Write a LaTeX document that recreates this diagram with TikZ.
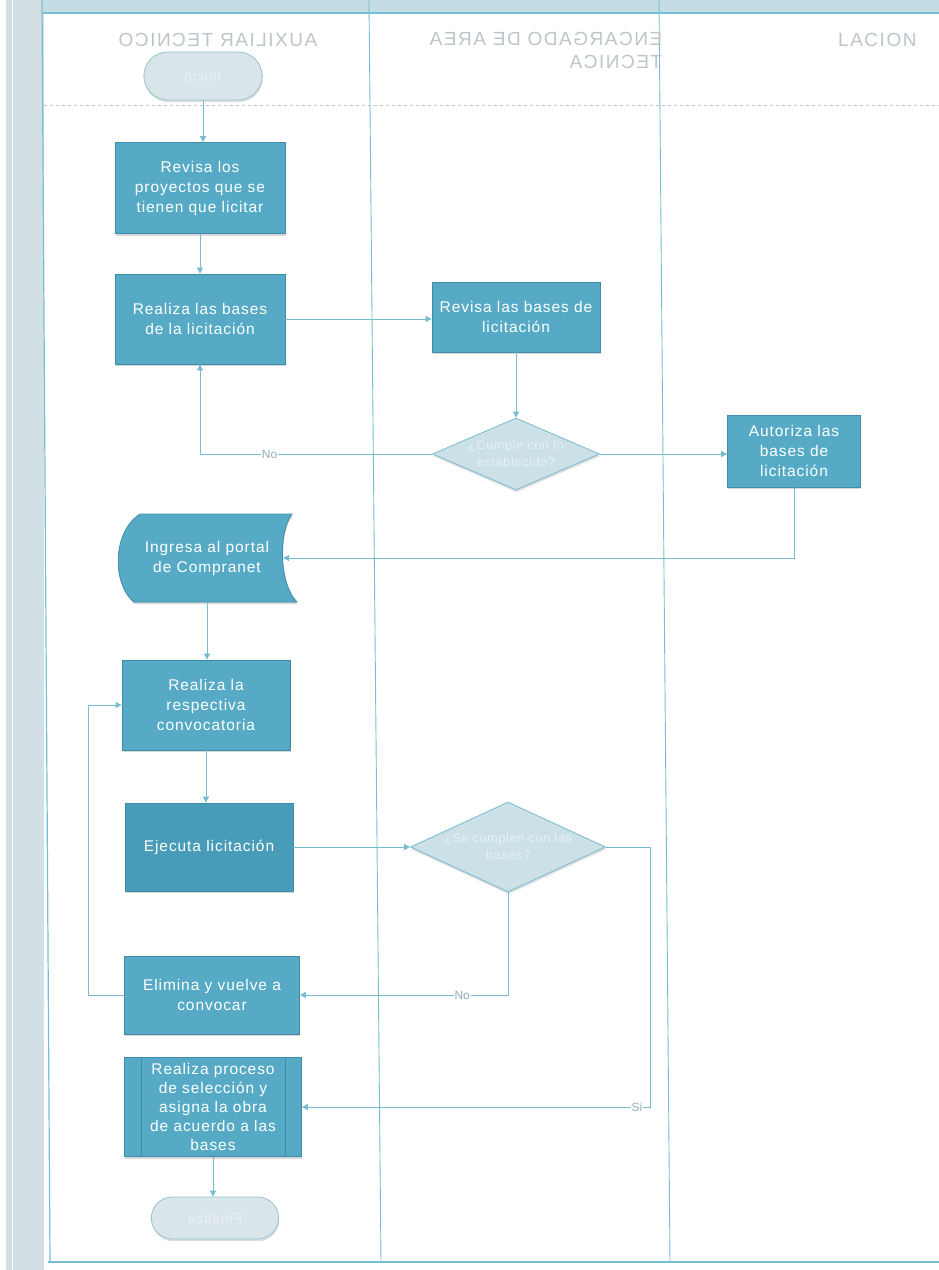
\documentclass[tikz,border=0pt]{standalone}
\usepackage{fontspec}
\setmainfont{Liberation Sans}
\newfontfamily\boxfont[LetterSpace=6]{Liberation Sans}
\newfontfamily\headfont[LetterSpace=8]{Liberation Sans}
\usetikzlibrary{arrows.meta,shapes.geometric,shapes.misc,shadows}
\definecolor{boxfill}{RGB}{86,170,197}
\definecolor{boxdark}{RGB}{72,155,185}
\definecolor{boxline}{RGB}{62,140,168}
\definecolor{flow}{RGB}{118,188,208}
\definecolor{decfill}{RGB}{203,224,231}
\definecolor{termfill}{RGB}{216,229,233}
\definecolor{frame}{RGB}{120,190,210}
\definecolor{faint}{RGB}{188,198,202}
\definecolor{strip}{RGB}{210,224,229}
\definecolor{topband}{RGB}{196,220,228}

\begin{document}
\begin{tikzpicture}[x=1pt,y=-1pt,
  boxtext/.style={rectangle,text=white,align=center,inner sep=2pt,
    font=\boxfont\fontsize{15.5}{20}\selectfont},
  proc/.style={boxtext,draw=boxline,line width=0.8pt,fill=boxfill,
    drop shadow={opacity=0.3,shadow xshift=0.6pt,shadow yshift=-2.2pt}},
  decision/.style={diamond,draw=flow,line width=0.8pt,fill=decfill,inner sep=0pt,
    drop shadow={opacity=0.25,shadow xshift=0.6pt,shadow yshift=-2.2pt}},
  dtext/.style={text={rgb,255:red,234;green,241;blue,244},align=center,font=\boxfont\fontsize{12.5}{17}\selectfont},
  term/.style={rounded rectangle,draw={rgb,255:red,150;green,196;blue,208},line width=0.8pt,fill=termfill,
    text={rgb,255:red,236;green,242;blue,244},font=\boxfont\fontsize{14}{17}\selectfont,
    drop shadow={opacity=0.25,shadow xshift=0.6pt,shadow yshift=-2.2pt}},
  flowline/.style={draw=flow,line width=0.9pt,-{Triangle[length=6pt,width=6pt]}},
  tag/.style={fill=white,inner sep=1pt,text={rgb,255:red,150;green,170;blue,180},font=\fontsize{12}{14}\selectfont},
  header/.style={text=faint,font=\headfont\fontsize{19}{23}\selectfont,inner sep=0pt}]
\path[use as bounding box] (0,0) rectangle (939,1270);
\fill[white] (0,0) rectangle (939,1270);

% swimlane frame
\fill[strip] (6,0) rectangle (44,1270);
\draw[white,line width=1pt] (12,0) -- (12,1270);
\fill[topband] (43,0) rectangle (939,12);
\draw[frame,line width=2pt] (43,13) -- (939,13);
\draw[faint,dashed,line width=0.6pt] (44,105) -- (939,105);
\draw[frame,line width=1.2pt] (42,0) -- (50,1262);
\draw[frame,line width=0.9pt] (369,0) -- (381,1262);
\draw[frame,line width=0.9pt] (659,0) -- (670,1262);
\draw[frame,line width=1.5pt] (48,1262) -- (939,1262);

% lane headers
\node[header] (laneaux) at (218,40) {\reflectbox{AUXILIAR TECNICO}};
\node[header] (laneenc) at (546,52) {\reflectbox{\begin{tabular}{@{}l@{}}ENCARGADO DE AREA\\TECNICA\end{tabular}}};
\node[header,anchor=west] (lanethird) at (838,40) {LACION};

% steps
\node[term,minimum width=125pt,minimum height=48pt] (inicio) at (203,76) {\reflectbox{Inicio}};
\node[proc,minimum width=170pt,minimum height=91pt] (revproy) at (200,188) {Revisa los\\proyectos que se\\tienen que licitar};
\node[proc,minimum width=170pt,minimum height=90pt] (bases) at (200,319) {Realiza las bases\\de la licitación};
\node[proc,minimum width=168pt,minimum height=70pt] (revbases) at (516,317) {Revisa las bases de\\licitación};
\node[decision,minimum width=167pt,minimum height=72pt,
  label={[dtext]center:¿Cumple con lo\\establecido?}] (dec1) at (516,454) {};
\node[proc,minimum width=133pt,minimum height=72pt] (autoriza) at (794,451) {Autoriza las\\bases de\\licitación};

% stored data shape
\path[fill=boxfill,draw=boxline,line width=0.8pt,drop shadow={opacity=0.3,shadow xshift=0.6pt,shadow yshift=-2.2pt}]
  (140,514) .. controls (112,532) and (112,584) .. (134,602) -- (297,602)
  .. controls (279,584) and (278,532) .. (292,514) -- cycle;
\node[boxtext,minimum width=180pt,minimum height=88pt] (ingreso) at (207,558) {Ingresa al portal\\de Compranet};

\node[proc,minimum width=168pt,minimum height=90pt] (convoca) at (206,705) {Realiza la\\respectiva\\convocatoria};
\node[proc,fill=boxdark,minimum width=168pt,minimum height=88pt] (ejecuta) at (209,847) {Ejecuta licitación};
\node[decision,minimum width=195pt,minimum height=90pt,
  label={[dtext]center:¿Se cumplen con las\\bases?}] (dec2) at (508,847) {};
\node[proc,minimum width=175pt,minimum height=78pt] (elimina) at (212,995) {Elimina y vuelve a\\convocar};
\node[proc,minimum width=177pt,minimum height=99pt,font=\boxfont\fontsize{15.5}{19}\selectfont] (selec) at (213,1107) {Realiza proceso\\de selección y\\asigna la obra\\de acuerdo a las\\bases};
\draw[boxline,line width=0.8pt] ([xshift=17pt]selec.north west) -- ([xshift=17pt]selec.south west);
\draw[boxline,line width=0.8pt] ([xshift=-17pt]selec.north east) -- ([xshift=-17pt]selec.south east);
\node[term,minimum width=134pt,minimum height=42pt] (fin) at (215,1218) {\reflectbox{Finaliza}};

% connectors
\draw[flowline] (inicio.south) -- (inicio.south |- revproy.north);
\draw[flowline] (revproy.south) -- (bases.north);
\draw[flowline] (bases.east) -- (bases.east -| revbases.west);
\draw[flowline] (revbases.south) -- (dec1.north);
\draw[flowline] (dec1.west) -| node[tag,pos=0.35] {No} (bases.south);
\draw[flowline] (dec1.east) -- (dec1.east -| autoriza.west);
\draw[flowline] (autoriza.south) |- ([xshift=-14pt]ingreso.east);
\draw[flowline] (ingreso.south) -- (ingreso.south |- convoca.north);
\draw[flowline] (convoca.south) -- (convoca.south |- ejecuta.north);
\draw[flowline] (ejecuta.east) -- (dec2.west);
\draw[flowline] (dec2.south) |- node[tag,pos=0.61] {No} (elimina.east);
\draw[flowline] (elimina.west) -- ++(-36,0) |- (convoca.west);
\draw[flowline] (dec2.east) -- ++(45,0) |- node[tag,pos=0.52] {Si} (selec.east);
\draw[flowline] (selec.south) -- (selec.south |- fin.north);
\end{tikzpicture}
\end{document}
